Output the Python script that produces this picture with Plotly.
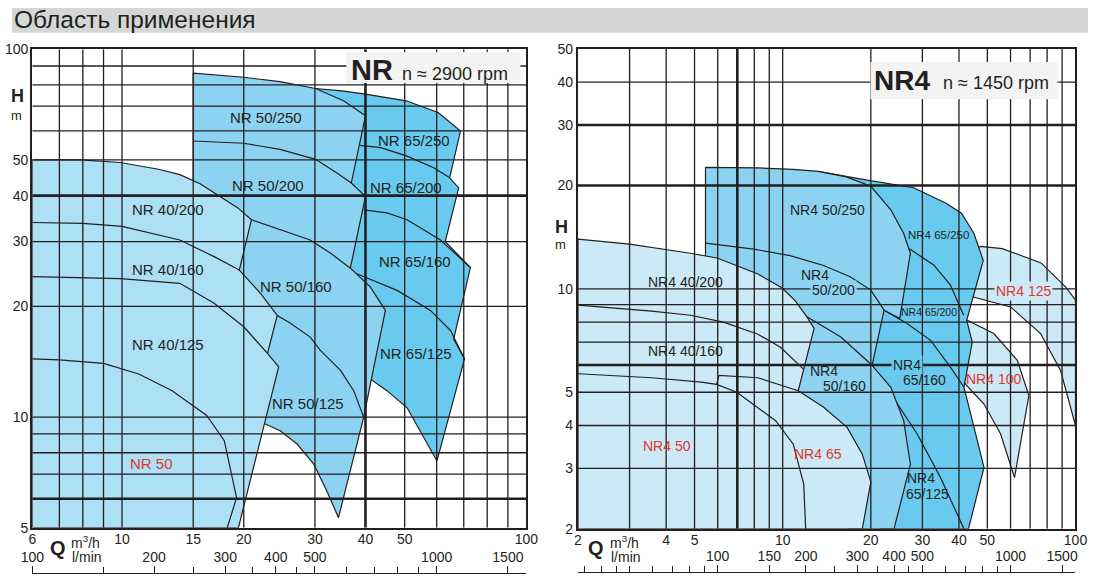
import numpy as np
import plotly.graph_objects as go

INK = "#231f20"
RED = "#e2352f"
C_LIGHT = "#addff5"
C_MID = "#8bd3f1"
C_DARK = "#69caef"
C_PALE = "#cce9f7"
FONT = "Liberation Sans, Arial, sans-serif"
W, HT = 1100, 584
# the photographed page comes back slightly shrunk and offset; layout positions below
# are written in picture pixels and mapped back through this
SHOT_OX, SHOT_SX = 11.7, 0.978
SHOT_OY, SHOT_SY = 9.3, 0.968

# ---------------- NR  n = 2900 rpm (left chart) ----------------
nr_q_ticks = [6, 10, 15, 20, 30, 40, 50, 100]
nr_h_ticks = [5, 10, 20, 30, 40, 50, 100]
nr_q_grid = [7, 8, 9, 10, 15, 20, 30, 50, 60, 70, 80, 90]
nr_q_grid_bold = [40]
nr_h_grid = [7, 8, 9, 10, 20, 30, 50, 60, 70, 80, 90]
nr_h_grid_bold = [6, 40]
nr_lmin_ticks = [100, 200, 300, 400, 500, 1000, 1500]
nr_lmin_minor = [150, 250, 350, 450, 600, 700, 800, 900]

# NR 65 family (dark)
nr65_q = [30.1, 35, 40, 50.4, 60.5, 68.7, 64.6, 68.0, 63.0, 72.7, 66.1, 70.3, 60.1, 54.7, 50.7, 45.2, 41.1, 35, 30, 30.1]
nr65_h = [78.2, 77.0, 75.5, 72.4, 67.3, 59.9, 44.7, 42.0, 30.0, 25.5, 16.3, 14.4, 7.6, 9.18, 10.6, 11.8, 12.7, 20, 50, 78.2]
nr65_200_q = [38.8, 43.6, 50.7, 59.0, 64.6]
nr65_200_h = [54.8, 54.0, 51.2, 47.6, 44.7]
nr65_160_q = [39.6, 45.2, 50.7, 61.3, 72.7]
nr65_160_h = [36.6, 35.9, 34.4, 30.3, 25.5]
nr65_125_q = [37.8, 47.9, 57.9, 64.9, 70.3]
nr65_125_h = [24.6, 22.1, 19.5, 17.2, 14.4]

# NR 50 family (medium)
nr50_q = [15, 20, 24.6, 30.1, 35.3, 40, 36.9, 40, 36.7, 41.1, 44.8, 39.6, 34.3, 32.1, 29.8, 27.1, 24.6, 22.6, 15, 15]
nr50_h = [86.1, 83.9, 81.6, 78.2, 72.4, 65.9, 43.3, 39.8, 25.4, 22.6, 19.5, 10.0, 5.33, 6.3, 7.45, 8.45, 9.18, 9.58, 10, 86.1]
nr50_200_q = [15, 20, 24.6, 30.1, 34.0, 36.9]
nr50_200_h = [56.3, 55.5, 53.4, 50.2, 46.1, 43.3]
nr50_160_q = [20.9, 24.6, 29.2, 32.8, 36.7]
nr50_160_h = [34.4, 32.3, 30.3, 27.9, 25.4]
nr50_125_q = [24.2, 26.1, 29.2, 30.9, 34.7, 37.4, 39.6]
nr50_125_h = [18.9, 18.0, 16.5, 15.2, 13.4, 11.8, 10.0]

# NR 40 family + NR 50 (light)
nr40_q = [6, 6, 7.9, 9.9, 12.4, 13.9, 15.6, 17.5, 19.3, 20.9, 19.5, 22.0, 24.2, 22.9, 24.4, 19.4, 6]
nr40_h = [5, 50, 50, 49.2, 47.1, 45.6, 43.1, 39.8, 37.1, 34.4, 25.1, 21.7, 18.9, 14.9, 13.7, 5, 5]
nr40_160_q = [6, 8, 10, 13.9, 16.9, 19.5]
nr40_160_h = [33.8, 33.6, 33.0, 30.3, 27.3, 25.1]
nr40_125_q = [6, 9.9, 13.9, 16.9, 20.0, 22.9]
nr40_125_h = [24.1, 23.8, 23.1, 20.4, 17.6, 14.9]
nr50s_q = [6, 7, 9, 11, 13.3, 16.2, 17.9, 19.2, 18.2]
nr50s_h = [14.4, 14.3, 14.0, 13.1, 11.8, 10.1, 8.63, 6.04, 5]

nr_lab_text = ["NR 50/250", "NR 65/250", "NR 50/200", "NR 65/200", "NR 40/200", "NR 40/160",
               "NR 50/160", "NR 65/160", "NR 40/125", "NR 50/125", "NR 65/125"]
nr_lab_q = [22.75, 52.6, 22.9, 50.5, 13.0, 13.0, 27.0, 52.9, 13.0, 28.9, 53.2]
nr_lab_h = [65.3, 56.5, 42.6, 42.2, 36.6, 25.2, 22.6, 26.4, 15.75, 10.9, 14.9]
nr_red_text = ["NR 50"]
nr_red_q = [11.85]
nr_red_h = [7.5]

# ---------------- NR4  n = 1450 rpm (right chart) ----------------
nr4_q_ticks = [2, 4, 5, 10, 20, 30, 40, 50, 100]
nr4_h_ticks = [2, 3, 4, 5, 10, 20, 30, 40, 50]
nr4_q_grid = [3, 4, 5, 6, 8, 9, 10, 20, 30, 40, 50, 60, 70, 80, 90]
nr4_q_grid_bold = [7]
nr4_h_grid = [3, 4, 5, 7, 8, 9, 10, 40]
nr4_h_grid_bold = [6, 20, 30]
nr4_lmin_ticks = [100, 150, 200, 300, 400, 500, 1000, 1500]
nr4_lmin_minor = [35, 40, 45, 50, 60, 70, 80, 90, 250, 350, 450, 600, 700, 800, 900]

# NR4 125 / NR4 100 (pale, right)
nr4_125_q = [47.4, 56.2, 76.3, 92.8, 100, 100, 88.9, 76.0, 60.0, 43.5, 40, 47.4]
nr4_125_h = [13.3, 13.1, 11.9, 10.1, 9.28, 4.0, 5.79, 7.41, 8.86, 9.53, 12, 13.3]
nr4_100_q = [42.7, 52.6, 63.3, 69.3, 61.9, 55.5, 48.7, 42.0, 38, 42.7]
nr4_100_h = [8.1, 7.41, 6.19, 4.89, 2.82, 3.78, 4.62, 5.29, 7.0, 8.1]

# NR4 65 family (dark)
nr4_65_q = [13.2, 19.0, 28.0, 36.0, 40.8, 45.0, 48.4, 42.5, 44.4, 41.6, 48.7, 43.1, 21.6, 20, 21.6, 14.6, 13.2]
nr4_65_h = [22.0, 20.8, 19.7, 17.8, 16.6, 14.5, 12.1, 8.1, 7.0, 5.17, 3.02, 2.0, 2.0, 6, 9.28, 18.2, 22.0]
nr4_65_200_q = [27.0, 32.8, 37.4, 41.5]
nr4_65_200_h = [13.1, 11.74, 10.26, 8.38]
nr4_65_160_q = [22.2, 26.6, 32.0, 37.4, 41.6]
nr4_65_160_h = [8.67, 7.93, 7.08, 5.92, 5.17]
nr4_65_125_q = [20.2, 23.4, 28.8, 34.6, 41.6]
nr4_65_125_h = [5.99, 4.95, 3.78, 2.82, 2.0]

# NR4 50 family (medium)
nr4_50_q = [5.45, 8.23, 10.87, 13.2, 16.5, 20, 23.4, 25.9, 27.3, 25.1, 22.2, 20.2, 23.4, 25.9, 27.3, 24.0, 17, 8, 5.45, 5.45]
nr4_50_h = [22.6, 22.5, 22.3, 22.0, 21.2, 19.9, 17.0, 14.5, 12.7, 8.2, 8.67, 5.99, 5.17, 4.13, 3.08, 2.0, 2.0, 3, 10, 22.6]
nr4_50_200_q = [5.45, 7.97, 10.6, 13.8, 17.0, 20, 22.2]
nr4_50_200_h = [13.6, 13.05, 12.5, 11.7, 10.85, 9.92, 8.67]
nr4_50_160_q = [12.1, 15.8, 20.2]
nr4_50_160_h = [8.29, 7.24, 5.99]

# NR4 40 family + NR4 50 / NR4 65 (pale, left)
nr4_40_q = [2, 2, 3.0, 4.84, 5.97, 6.97, 8.23, 9.96, 11.06, 12.1, 12.8, 11.3, 13.8, 16.6, 18.7, 20.0, 18.7, 2]
nr4_40_h = [2, 13.96, 13.5, 12.7, 12.3, 11.7, 11.05, 10.06, 9.21, 8.29, 7.67, 5.05, 4.52, 3.95, 3.30, 2.74, 2, 2]
nr4_40_160_q = [2, 3.57, 4.84, 6.28, 8.23, 9.83, 11.8]
nr4_40_160_h = [8.97, 8.61, 8.38, 8.0, 7.38, 6.76, 5.83]
nr4_50s_q = [2, 3.57, 5.27, 5.95, 6.97, 9.46, 10.87, 11.8, 11.98]
nr4_50s_h = [5.66, 5.51, 5.35, 5.27, 5.0, 4.13, 3.53, 2.70, 2.0]
nr4_65s_q = [5.95, 6.06, 8.23, 10.87, 11.3]
nr4_65s_h = [5.27, 5.6, 5.51, 5.12, 5.05]

nr4_lab_text = ["NR4 40/200", "NR4 40/160", "NR4 50/250", "NR4", "50/200", "NR4", "50/160",
                "NR4 65/250", "NR4 65/200", "NR4", "65/160", "NR4", "65/125"]
nr4_lab_q = [4.65, 4.65, 14.2, 12.85, 14.9, 13.8, 16.2, 34.1, 31.6, 26.6, 30.4, 29.6, 31.2]
nr4_lab_h = [10.5, 6.58, 17.0, 10.95, 9.92, 5.78, 5.23, 14.4, 8.57, 6.0, 5.44, 2.81, 2.52]
nr4_lab_size = [14, 14, 14, 14, 14, 14, 14, 11.5, 10.5, 14, 14, 14, 14]
nr4_lab_bg = [None, None, None, None, C_MID, None, None, None, None, C_DARK, None, None, None]
nr4_red_text = ["NR4 50", "NR4 65", "NR4 125", "NR4 100"]
nr4_red_q = [4.02, 13.2, 66.6, 52.6]
nr4_red_h = [3.49, 3.31, 9.87, 5.47]
nr4_red_bg = [None, None, C_PALE, None]


def px(x):
    # picture pixel -> paper fraction
    return (x - SHOT_OX) / SHOT_SX / W


def py(y):
    return 1 - (y - SHOT_OY) / SHOT_SY / HT


def area(q, h, color, xa, ya):
    return go.Scatter(x=q, y=h, mode="lines", fill="toself", fillcolor=color,
                      line=dict(color=INK, width=1.2), xaxis=xa, yaxis=ya,
                      hoverinfo="skip", showlegend=False)


def curve(q, h, xa, ya):
    return go.Scatter(x=q, y=h, mode="lines", line=dict(color=INK, width=1.2),
                      xaxis=xa, yaxis=ya, hoverinfo="skip", showlegend=False)


def grid(vals, lo, hi, vertical, width, xa, ya):
    xs, ys = [], []
    for v in vals:
        if vertical:
            xs += [v, v, None]
            ys += [lo, hi, None]
        else:
            xs += [lo, hi, None]
            ys += [v, v, None]
    return go.Scatter(x=xs, y=ys, mode="lines", line=dict(color=INK, width=width),
                      xaxis=xa, yaxis=ya, hoverinfo="skip", showlegend=False)


fig = go.Figure()

# left chart
fig.add_trace(area(nr65_q, nr65_h, C_DARK, "x", "y"))
for q, h in [(nr65_200_q, nr65_200_h), (nr65_160_q, nr65_160_h), (nr65_125_q, nr65_125_h)]:
    fig.add_trace(curve(q, h, "x", "y"))
fig.add_trace(area(nr50_q, nr50_h, C_MID, "x", "y"))
for q, h in [(nr50_200_q, nr50_200_h), (nr50_160_q, nr50_160_h), (nr50_125_q, nr50_125_h)]:
    fig.add_trace(curve(q, h, "x", "y"))
fig.add_trace(area(nr40_q, nr40_h, C_LIGHT, "x", "y"))
for q, h in [(nr40_160_q, nr40_160_h), (nr40_125_q, nr40_125_h), (nr50s_q, nr50s_h)]:
    fig.add_trace(curve(q, h, "x", "y"))
qlo, qhi = nr_q_ticks[0], nr_q_ticks[-1]
hlo, hhi = nr_h_ticks[0], nr_h_ticks[-1]
fig.add_trace(grid(nr_q_grid, hlo, hhi, True, 1.3, "x", "y"))
fig.add_trace(grid(nr_q_grid_bold, hlo, hhi, True, 2.6, "x", "y"))
fig.add_trace(grid(nr_h_grid, qlo, qhi, False, 1.3, "x", "y"))
fig.add_trace(grid(nr_h_grid_bold, qlo, qhi, False, 2.6, "x", "y"))

# right chart
fig.add_trace(area(nr4_125_q, nr4_125_h, C_PALE, "x2", "y2"))
fig.add_trace(area(nr4_100_q, nr4_100_h, C_PALE, "x2", "y2"))
fig.add_trace(area(nr4_65_q, nr4_65_h, C_DARK, "x2", "y2"))
for q, h in [(nr4_65_200_q, nr4_65_200_h), (nr4_65_160_q, nr4_65_160_h), (nr4_65_125_q, nr4_65_125_h)]:
    fig.add_trace(curve(q, h, "x2", "y2"))
fig.add_trace(area(nr4_50_q, nr4_50_h, C_MID, "x2", "y2"))
for q, h in [(nr4_50_200_q, nr4_50_200_h), (nr4_50_160_q, nr4_50_160_h)]:
    fig.add_trace(curve(q, h, "x2", "y2"))
fig.add_trace(area(nr4_40_q, nr4_40_h, C_PALE, "x2", "y2"))
for q, h in [(nr4_40_160_q, nr4_40_160_h), (nr4_50s_q, nr4_50s_h), (nr4_65s_q, nr4_65s_h)]:
    fig.add_trace(curve(q, h, "x2", "y2"))
qlo, qhi = nr4_q_ticks[0], nr4_q_ticks[-1]
hlo, hhi = nr4_h_ticks[0], nr4_h_ticks[-1]
fig.add_trace(grid(nr4_q_grid, hlo, hhi, True, 1.3, "x2", "y2"))
fig.add_trace(grid(nr4_q_grid_bold, hlo, hhi, True, 2.6, "x2", "y2"))
fig.add_trace(grid(nr4_h_grid, qlo, qhi, False, 1.3, "x2", "y2"))
fig.add_trace(grid(nr4_h_grid_bold, qlo, qhi, False, 2.6, "x2", "y2"))

# invisible anchors for the l/min scales
fig.add_trace(go.Scatter(x=[nr_lmin_ticks[0]], y=[nr_h_ticks[0]], xaxis="x3", yaxis="y",
                         mode="markers", marker=dict(opacity=0), hoverinfo="skip", showlegend=False))
fig.add_trace(go.Scatter(x=[nr4_lmin_ticks[0]], y=[nr4_h_ticks[0]], xaxis="x4", yaxis="y2",
                         mode="markers", marker=dict(opacity=0), hoverinfo="skip", showlegend=False))


def main_axis(dom, rng, ticks, anchor, standoff):
    return dict(type="log", domain=dom, range=rng, tickvals=ticks,
                ticktext=[str(t) for t in ticks], showgrid=False, zeroline=False,
                showline=True, mirror=True, linecolor=INK, linewidth=2.4, ticks="",
                layer="above traces", anchor=anchor, ticklabelstandoff=standoff,
                tickfont=dict(size=14, color=INK, family=FONT))


def lmin_axis(over, rng, ticks, minor, pos):
    return dict(type="log", overlaying=over, anchor="free", position=pos, side="top",
                range=rng, tickvals=ticks, ticktext=[str(t) for t in ticks],
                showgrid=False, zeroline=False, showline=True, linecolor=INK, linewidth=1.4,
                ticks="outside", ticklen=7, tickwidth=1.2, tickcolor=INK, ticklabelstandoff=-1,
                tickfont=dict(size=14, color=INK, family=FONT),
                minor=dict(tickvals=minor, ticks="outside", ticklen=6, tickwidth=1.2,
                           tickcolor=INK, showgrid=False))


lx_dom = [px(32), px(526)]
ly_dom = [py(526.7), py(50.3)]
rx_dom = [px(577.6), px(1075)]
ry_dom = [py(527.7), py(50)]

fig.update_layout(
    width=W, height=HT, margin=dict(l=0, r=0, t=0, b=0),
    paper_bgcolor="white", plot_bgcolor="rgba(0,0,0,0)",
    font=dict(family=FONT, color=INK, size=14), showlegend=False,
    xaxis=main_axis(lx_dom, [np.log10(nr_q_ticks[0]), np.log10(nr_q_ticks[-1])], nr_q_ticks, "y", -3),
    yaxis=main_axis(ly_dom, [np.log10(nr_h_ticks[0]), np.log10(nr_h_ticks[-1])], nr_h_ticks, "x", -1),
    xaxis2=main_axis(rx_dom, [np.log10(nr4_q_ticks[0]), np.log10(nr4_q_ticks[-1])], nr4_q_ticks, "y2", -3),
    yaxis2=main_axis(ry_dom, [np.log10(nr4_h_ticks[0]), np.log10(nr4_h_ticks[-1])], nr4_h_ticks, "x2", 0),
    xaxis3=lmin_axis("x", [np.log10(nr_q_ticks[0] * 1000 / 60), np.log10(nr_q_ticks[-1] * 1000 / 60)],
                     nr_lmin_ticks, nr_lmin_minor, max(0, py(572))),
    xaxis4=lmin_axis("x2", [np.log10(nr4_q_ticks[0] * 1000 / 60), np.log10(nr4_q_ticks[-1] * 1000 / 60)],
                     nr4_lmin_ticks, nr4_lmin_minor, max(0, py(571))),
)

shapes = [
    dict(type="rect", xref="paper", yref="paper", x0=max(0, px(3)), x1=min(1, px(1100)),
         y0=py(34), y1=min(1, py(5)), fillcolor="#d5d7d7", line=dict(width=0), layer="below"),
    dict(type="rect", xref="paper", yref="paper", x0=px(346), x1=px(520), y0=py(84), y1=py(53),
         fillcolor="#f3f3f3", line=dict(width=0), layer="above"),
    dict(type="rect", xref="paper", yref="paper", x0=px(870), x1=px(1057), y0=py(100), y1=py(63),
         fillcolor="#f3f3f3", line=dict(width=0), layer="above"),
]

ann = []


def txt(x, y, s, size=14, color=INK, xanchor="center", bold=False, xref="paper", yref="paper", bg=None):
    a = dict(x=x, y=y, xref=xref, yref=yref, text=("<b>%s</b>" % s) if bold else s,
             showarrow=False, xanchor=xanchor, yanchor="middle",
             font=dict(size=size, color=color, family=FONT))
    if bg:
        a.update(bgcolor=bg, borderpad=1)
    ann.append(a)


txt(px(12), py(21), "Область применения", size=24.5, xanchor="left")

for s, q, h in zip(nr_lab_text, nr_lab_q, nr_lab_h):
    txt(np.log10(q), np.log10(h), s, size=15, xref="x", yref="y")
for s, q, h in zip(nr_red_text, nr_red_q, nr_red_h):
    txt(np.log10(q), np.log10(h), s, size=15, color=RED, xref="x", yref="y")
for s, q, h, sz, bg in zip(nr4_lab_text, nr4_lab_q, nr4_lab_h, nr4_lab_size, nr4_lab_bg):
    txt(np.log10(q), np.log10(h), s, size=sz, xref="x2", yref="y2", bg=bg)
for s, q, h, bg in zip(nr4_red_text, nr4_red_q, nr4_red_h, nr4_red_bg):
    txt(np.log10(q), np.log10(h), s, size=14, color=RED, xref="x2", yref="y2", bg=bg)

# series badges
txt(px(372), py(71), "NR", size=29, bold=True)
txt(px(455), py(75), "n ≈ 2900 rpm", size=18)
txt(px(902), py(81), "NR4", size=28, bold=True)
txt(px(996), py(84), "n ≈ 1450 rpm", size=18)

# axis captions
for x0, yh, ym in [(17, 97, 116), (561, 227, 245)]:
    txt(px(x0), py(yh), "H", size=18, bold=True)
    txt(px(x0 - 1), py(ym), "m", size=13)
for xq, xu in [(58, 69), (596, 608)]:
    txt(px(xq), py(547), "Q", size=20, bold=True)
    txt(px(xu), py(541), "m<sup>3</sup>/h", size=14, xanchor="left")
    txt(px(xu + 1), py(556), "l/min", size=14, xanchor="left")

fig.update_layout(shapes=shapes, annotations=ann)

fig.write_html("out.html", config={"displayModeBar": False},
               post_script="document.body.style.margin='0px';")
